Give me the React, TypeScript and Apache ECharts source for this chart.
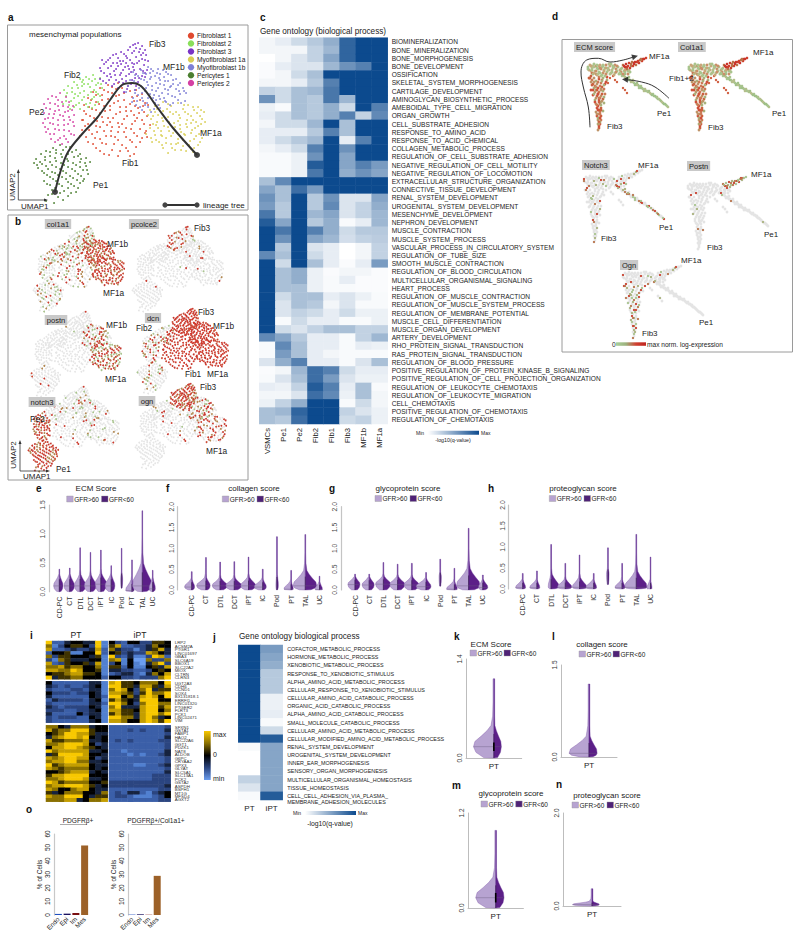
import React, { useEffect, useRef } from "react";
import * as echarts from "echarts";

const FF = '"Liberation Sans", Arial, sans-serif';

// ---- UMAP clusters (UMAP1, UMAP2 pairs)
const fib3 = [130,167,125,165,134,164,128,162,120,160,137,160,113,158,131,158,124,157,105,155,138,155,118,154,128,153,110,152,134,151,100,150,122,150,115,149,140,149,105,147,129,147,96,146,136,145,110,144,120,144,125,143,92,142,100,142,132,141,115,140,106,139,139,140,123,138,96,137,128,136,112,135,118,134,103,133,134,134,92,131,108,130,124,130,98,127,115,127,130,128,104,124,120,124,110,122,127,120,116,118,137,137,102,136,126,146,118,147,109,147,133,155,121,141,94,150,114,131,127,132,
127,166,132,161,122,163,116,156,126,159,135,157,108,156,102,152,112,149,119,152,124,147,131,149,137,150,98,148,103,144,113,146,108,141,117,143,126,140,135,139,93,139,99,134,107,135,113,137,121,136,131,132,137,133,95,129,101,130,111,128,118,129,123,126,128,124,106,126,113,124,119,121];
const mf1b = [140,143,150,141,133,140,145,139,158,138,125,138,152,136,138,136,163,135,130,134,147,134,156,133,168,131,142,131,136,130,152,130,160,129,122,130,172,127,148,127,128,127,165,126,156,125,140,125,133,124,175,122,150,122,144,120,168,121,120,124,160,120,127,120,137,119,178,117,154,117,172,116,146,115,130,115,164,114,140,112,152,111,125,112,170,110,135,109,147,107,158,108,128,105,140,103,152,102,134,100,143,98,148,110,162,123,118,118,156,112,142,137,124,108,177,109,165,107,137,105,
143,141,155,140,135,137,149,137,160,136,127,135,143,133,151,132,165,130,133,131,126,129,139,128,157,129,170,125,144,124,152,126,163,124,123,127,131,122,138,122,148,119,157,121,171,119,176,119,127,117,134,117,142,116,151,114,160,116,167,113,134,112,145,112,157,109,129,109,139,107,150,105,162,105,173,107,132,103,146,101];
const mf1a = [155,108,170,107,180,105,190,103,147,104,163,104,175,101,186,100,196,98,142,100,155,99,168,98,180,96,192,94,150,95,160,93,172,92,185,90,197,88,143,91,155,89,166,87,178,86,190,84,148,85,160,83,172,81,184,80,195,79,142,82,153,79,165,77,177,75,188,74,147,75,158,72,170,71,182,69,192,68,151,68,163,66,175,64,186,62,155,62,167,60,178,59,160,57,185,58,144,68,138,76,194,72,172,85,149,101,183,94,162,98,176,76,168,66,154,74,188,88,140,95,
151,105,160,106,176,105,185,103,193,100,147,98,159,101,171,95,177,98,189,97,145,94,154,92,165,96,179,90,194,91,149,88,161,88,170,89,183,87,193,86,145,86,156,84,167,83,179,83,187,82,146,79,150,82,161,79,173,78,183,77,191,76,143,72,153,75,163,74,175,70,186,71,148,70,158,67,170,67,181,65,190,65,154,65,164,62,173,60,183,61];
const fib1 = [110,127,100,125,120,124,92,122,108,121,128,120,85,118,100,118,116,117,134,116,94,115,108,114,124,113,80,112,100,111,116,110,132,110,88,108,106,107,122,106,140,105,76,105,96,104,112,103,130,102,84,101,102,100,118,99,136,98,92,97,108,96,126,95,78,96,86,92,100,92,116,91,134,90,95,88,110,87,124,86,142,85,80,86,88,84,104,83,118,82,132,81,74,80,96,79,110,78,126,77,84,76,103,74,118,73,134,72,72,74,92,71,110,70,124,68,80,68,98,66,114,65,128,63,88,62,104,60,120,59,96,56,110,54,126,56,137,77,75,90,
104,123,114,122,96,120,122,119,88,115,104,117,111,115,129,114,83,110,94,110,110,109,126,109,137,107,81,103,91,106,102,104,118,103,127,104,135,104,76,99,88,100,97,99,112,98,123,99,131,97,82,94,94,93,105,92,119,94,129,92,139,94,74,90,89,89,102,88,114,86,127,89,136,86,77,84,92,83,99,85,111,83,123,81,138,79,81,80,89,78,103,79,116,78,129,74,139,73,78,73,87,72,98,74,107,73,122,70,132,68,85,66,94,67,106,66,118,62,92,59,101,55,112,59,122,54];
const fib2 = [85,135,78,133,92,132,72,131,84,129,66,128,90,127,76,126,60,124,82,123,70,122,94,122,56,120,76,119,88,118,64,118,80,115,92,114,70,114,58,114,84,111,74,110,63,109,90,108,78,106,68,105,55,106,84,102,72,101,62,101,88,125,74,128,67,116,82,107,
81,131,87,131,75,130,69,125,80,126,93,126,64,122,74,124,86,120,59,117,72,117,83,118,90,116,66,112,76,113,86,113,61,105,71,107,80,103,87,105,66,103,58,109];
const pe2 = [52,117,44,114,58,113,40,111,50,110,61,108,47,106,36,106,55,104,65,104,42,101,51,100,60,99,36,97,46,96,55,94,66,95,40,92,50,90,62,90,35,87,45,86,56,85,66,84,40,81,51,80,61,79,46,76,56,74,50,70,60,68,66,75,37,83,43,71,54,66,
48,113,54,108,42,107,60,103,50,104,38,102,47,99,57,98,64,100,41,96,52,95,61,93,37,91,45,92,56,90,65,88,42,87,50,85,60,86,38,78,47,81,56,80,63,76,42,76,52,72,58,71,47,68];
const pe1 = [52,65,62,63,45,62,55,60,68,60,38,59,48,57,60,56,72,56,33,56,42,54,54,53,66,53,78,52,28,51,37,50,48,49,60,49,72,48,82,48,26,47,34,46,44,45,56,45,68,45,78,44,30,42,40,41,52,41,64,41,75,40,36,37,47,37,58,37,70,36,80,36,42,33,54,33,65,32,76,31,36,29,48,29,60,28,72,27,42,25,54,24,66,24,44,20,56,19,68,18,40,15,50,13,60,14,38,9,46,7,
58,63,48,60,64,58,42,58,53,56,70,54,37,53,47,52,59,51,73,51,32,48,42,48,53,47,65,47,77,47,29,45,38,44,48,43,60,43,72,43,34,39,44,38,55,39,67,39,79,40,39,35,50,35,62,34,73,34,45,31,58,31,69,30,39,26,51,26,63,26,75,29,47,22,60,22,70,22,52,17,63,17,44,16,55,10];
const trajectory = [[47,18],[52,37],[60,58],[75,77],[89,92],[102,110],[114,125],[124,127],[134,123],[149,103],[165,82],[189,55]];
const trajectoryEnds = [[47,18],[189,55]];
const clusterNames = ["Fibroblast 1","Fibroblast 2","Fibroblast 3","Myofibroblast 1a","Myofibroblast 1b","Pericytes 1","Pericytes 2"];
const clusterColors = ["#E0492F","#8ADF5A","#7A33C6","#D9CF55","#7E7FD6","#4B7F30","#D440A4"];

// ---- expression: keep every k-th cell of [Fib1,Fib2,Fib3,MF1a,MF1b,Pe1,Pe2]; 0 = none
const exprCol1a1 = [2,2,2,1,1,3,3];
const exprPcolce2 = [35,0,3,25,15,60,0];
const exprPostn = [0,0,40,1,2,14,0];
const exprDcn = [1,3,1,1,1,4,2];
const exprNotch3 = [8,6,7,7,5,1,1];
const exprOgn = [8,8,1,2,2,0,0];

// ---- Diffusion-map arms (DC1, DC2 pairs)
const hub = [33,73,35,75,37,72,39,76,41,74,43,71,45,75,47,73,49,70,51,75,53,72,55,74,57,70,59,73,61,71,63,73,65,70,67,72,69,69,71,71,73,69,36,69,40,69,44,68,48,67,52,68,56,67,60,67,64,66,68,66,38,66,42,65,46,64,50,64,73,66,75,68,34,70,38,74,42,72,46,71,50,72,54,70,58,72,62,69,66,68,70,68,44,74,48,75,56,76,60,75,
33,71,36,74,39,73,42,75,45,72,48,74,51,72,54,76,58,74,62,74,66,71,70,70,74,70,37,70,41,69,45,67,49,69,53,70,57,68,61,68,65,67,39,67,43,66,47,65,51,66,55,66,59,65];
const armMF = [70,73,73,74,76,76,79,77,82,78,85,80,88,81,91,82,72,71,75,72,78,74,81,75,84,77,87,79,68,75,71,76,74,77,77,78,80,78,83,79,86,81,69,74,72,73,76,74,79,76,83,78,86,80,89,81];
const armPe = [66,66,69,64,72,62,75,60,78,58,81,56,84,54,87,52,90,50,93,48,96,46,99,44,102,42,105,40,108,37,111,35,113,33,70,66,74,63,78,60,82,57,86,54,90,51,94,49,98,46,102,43,106,39,71,61,76,58,80,55,84,52,89,49,68,65,73,61,77,59,83,55,88,51,92,49,97,45,101,43,104,41,109,36,67,64,70,63,74,60,79,57,82,55,86,52,91,49,95,47,100,44,103,41,107,38,110,36,112,34];
const armFib = [36,64,39,62,37,60,41,59,44,61,38,56,42,56,46,57,39,52,43,52,47,53,40,48,44,48,48,49,38,45,42,44,46,44,50,46,40,40,44,40,48,41,41,36,45,36,49,37,42,32,46,32,41,28,45,28,48,29,42,24,46,24,43,20,46,20,43,16,45,16,44,12,43,10,47,60,52,60,50,56,34,62,36,58,40,54,41,50,36,50,43,46,46,50,44,42,46,38,43,34,44,30,44,26,44,22,45,18,44,14,
37,67,41,66,44,63,48,62,52,63,35,62,39,58,43,58,47,59,51,58,37,55,41,53,45,54,49,55,38,50,42,50,46,51,49,51,39,46,43,46,47,46,41,42,45,42,49,43,40,38,44,38,47,39,42,35,46,35,43,30,46,30,42,26,45,26,43,22,45,22,44,18,44,16];
const stray = [55,62,62,58,68,52,70,50,60,60,72,47,58,64,53,57];
const arrowA = [[35,12.7],[33.3,33],[28.3,53],[26,68],[31.7,80],[43.3,81.7],[55,78],[68.3,80],[80,83.5]];
const arrowB = [[114,41.7],[100,53],[86.7,58],[70,60.5]];

// ---- heatmap c
const cCols = ["VSMCs","Pe1","Pe2","Fib2","Fib1","Fib3","MF1b","MF1a"];
const cTerms = ["BIOMINERALIZATION","BONE_MINERALIZATION","BONE_MORPHOGENESIS","BONE_DEVELOPMENT","OSSIFICATION","SKELETAL_SYSTEM_MORPHOGENESIS","CARTILAGE_DEVELOPMENT","AMINOGLYCAN_BIOSYNTHETIC_PROCESS","AMEBOIDAL_TYPE_CELL_MIGRATION","ORGAN_GROWTH","CELL_SUBSTRATE_ADHESION","RESPONSE_TO_AMINO_ACID","RESPONSE_TO_ACID_CHEMICAL","COLLAGEN_METABOLIC_PROCESS","REGULATION_OF_CELL_SUBSTRATE_ADHESION","NEGATIVE_REGULATION_OF_CELL_MOTILITY","NEGATIVE_REGULATION_OF_LOCOMOTION","EXTRACELLULAR_STRUCTURE_ORGANIZATION","CONNECTIVE_TISSUE_DEVELOPMENT","RENAL_SYSTEM_DEVELOPMENT","UROGENITAL_SYSTEM_DEVELOPMENT","MESENCHYME_DEVELOPMENT","NEPHRON_DEVELOPMENT","MUSCLE_CONTRACTION","MUSCLE_SYSTEM_PROCESS","VASCULAR_PROCESS_IN_CIRCULATORY_SYSTEM","REGULATION_OF_TUBE_SIZE","SMOOTH_MUSCLE_CONTRACTION","REGULATION_OF_BLOOD_CIRCULATION","MULTICELLULAR_ORGANISMAL_SIGNALING","HEART_PROCESS","REGULATION_OF_MUSCLE_CONTRACTION","REGULATION_OF_MUSCLE_SYSTEM_PROCESS","REGULATION_OF_MEMBRANE_POTENTIAL","MUSCLE_CELL_DIFFERENTIATION","MUSCLE_ORGAN_DEVELOPMENT","ARTERY_DEVELOPMENT","RHO_PROTEIN_SIGNAL_TRANSDUCTION","RAS_PROTEIN_SIGNAL_TRANSDUCTION","REGULATION_OF_BLOOD_PRESSURE","POSITIVE_REGULATION_OF_PROTEIN_KINASE_B_SIGNALING","POSITIVE_REGULATION_OF_CELL_PROJECTION_ORGANIZATION","REGULATION_OF_LEUKOCYTE_CHEMOTAXIS","REGULATION_OF_LEUKOCYTE_MIGRATION","CELL_CHEMOTAXIS","POSITIVE_REGULATION_OF_CHEMOTAXIS","REGULATION_OF_CHEMOTAXIS"];
const cValues = [
[.5,1,2,3,4.5,8.5,10,10],[.5,.5,.5,2.5,4,8.5,10,10],[0,.5,1.5,2.5,5,8.5,10,10],[.2,1,1.5,1.5,4,6,7,10],[.2,.5,2,3.5,10,10,10,10],[.5,.5,1,3,7,10,10,10],[2.5,2,3.5,4,7.5,10,10,10],[6,2,3.5,3,7.5,4,10,10],[.8,.3,3.5,3,4.5,2,10,7],[1,2,3.5,3,4.5,7,2.5,6.5],[.5,2,2,4,10,3.5,10,10],[1,1,1,3,7,3.5,10,10],[1,2,3,4,10,1,7,10],[.5,1,2,7,10,6,10,10],[.3,.3,.8,6,10,5,10,10],[.3,.3,.8,9,10,5,7,5.5],[.3,.3,.8,7.5,10,4.5,6,5],[3.5,6.5,10,10,10,10,10,10],[5,3.5,8,5.5,10,10,10,10],[6,3.5,10,3,6,1.5,1.5,5],[5.5,3,10,3,6.5,1.5,2.5,4.5],[7.5,3,10,4,5,1.5,2.5,4],[9,5,10,3,4.5,.3,1,4],[10,7.5,10,7,4.5,2,3,3],[10,6,10,5,4,1.8,2.5,2.8],[10,3,10,1.5,1,0,.5,2.5],[6.5,3.5,10,2,1,0,.5,2.5],[10,2,10,3.5,1,.2,1,5.5],[10,3.5,4.5,.8,.2,.5,.5,.2],[10,3.5,4.5,.8,.3,1,.2,.2],[10,3.5,3.5,.8,.3,.3,.2,.2],[10,2,3.5,3.5,1,1.5,.8,.3],[10,1.5,3.5,3,.5,1.5,.3,.3],[10,1.5,2.5,2,1,2,.8,.8],[10,.3,2,1,1,.3,.3,.8],[10,2,1.5,2.5,3.5,3.5,2.5,2.5],[6.5,5,3,1,1,.3,2.5,4],[.3,6.5,3.5,1,1,.3,1,.8],[.3,5.5,3.5,1,.5,.3,.3,.3],[1.5,4.5,7,1,1,.3,1.5,3.5],[.2,.5,4,8,7,2,1,1],[.3,1.5,3.5,8,5.5,1.5,.8,.8],[1,.8,2.5,9,7,1,3.5,.3],[.5,.5,1.5,8,6.5,.8,3.5,.5],[.8,2.5,4.5,10,10,.3,2,.5],[3.5,4,8.5,10,10,2.5,1.5,.8],[3.5,3,8,10,10,2,2.5,.8]];

// ---- heatmap j
const jCols = ["PT","iPT"];
const jTerms = ["COFACTOR_METABOLIC_PROCESS","HORMONE_METABOLIC_PROCESS","XENOBIOTIC_METABOLIC_PROCESS","RESPONSE_TO_XENOBIOTIC_STIMULUS","ALPHA_AMINO_ACID_METABOLIC_PROCESS","CELLULAR_RESPONSE_TO_XENOBIOTIC_STIMULUS","CELLULAR_AMINO_ACID_CATABOLIC_PROCESS","ORGANIC_ACID_CATABOLIC_PROCESS","ALPHA_AMINO_ACID_CATABOLIC_PROCESS","SMALL_MOLECULE_CATABOLIC_PROCESS","CELLULAR_AMINO_ACID_METABOLIC_PROCESS","CELLULAR_MODIFIED_AMINO_ACID_METABOLIC_PROCESS","RENAL_SYSTEM_DEVELOPMENT","UROGENITAL_SYSTEM_DEVELOPMENT","INNER_EAR_MORPHOGENESIS","SENSORY_ORGAN_MORPHOGENESIS","MULTICELLULAR_ORGANISMAL_HOMEOSTASIS","TISSUE_HOMEOSTASIS","\nCELL_CELL_ADHESION_VIA_PLASMA_\nMEMBRANE_ADHESION_MOLECULES"];
const jPT = [10,10,10,10,10,10,10,10,10,10,10,10,.3,0,0,0,2.5,1.5,.3];
const jIPT = [5.5,5,4.5,3,3,3,.8,.8,1,.3,2,9,5,5,5,5,5,5,9];

// ---- heatmap i: one digit per cell, 0 = min (blue), 5 = 0 (black), 9 = max (yellow); 10 PT + 10 iPT
const iBlock1 = ["9224554491 5325533665","7135665391 6822334755","8223433482 7433134684","2556115592 5634338754","7366555461 9324113982","3176444551 7815007337","8236556481 3515104793","7786775571 6625115648","8877985561 4433223565","5667886651 2344214758","9466775552 5533233379"];
const iBlock2 = ["5222222441 8966577759","4323223451 9966488648","3222332441 7985379466","5333233541 8876369779","4222222542 9957489859","2433332451 6865499955","3222222442 9975379977","4323333541 7944489968","3332233451 8866589957","4222253441 6866489979","3233322541 9977489745","3222222451 8875589869"];
const iBlock3 = ["7754777455 2222222223","8677999655 2223232224","5679988644 2222222223","4789989545 2222222224","8667778445 2323222233","7789998534 2222222223","5889987654 2222222223","9788888445 2212222224","4699998554 2221212234","8789988534 2222222223","7889977445 2222222223","9678888544 2222112234","8767777545 2222222223","5567888454 2222222224","6889999555 2222222333","7789998445 2222222333","9867777556 3333333333","7889998645 3333333334","8755788544 2222222233","6457775547 2324421345","8779995466 2332111235","7778845778 2222222233"];
const iLabels1 = ["LRP2","ACSM2A","PTGR1","LINC01697","GBA3","SLC6A19","BBOX1","SLC22A2","MIOX","CLTRN","CLRN3"];
const iLabels2 = ["UGT2A3","CDH6","CCND1","SOX4","BX131818.1","ERRFI1","LINC01320","PTGER2","FLRT3","PCK1","LINC02471","VIM"];
const iLabels3 = ["SFXN1","GSTA1","FABP1","HAO2","SLC22A6","GGT1","PDZK1","NAT8","ALDOB","G6PC","CRYAA2","GPX3","GLYAT","SLC5A1","SLC13A1","PCK2","GSTA2","ASPDH","BSPH1","MT1G","MFSD4","AGXT2"];

// ---- violins: tops, bellies, left widths, right widths
const kinds = ["CD-PC","CT","DTL","DCT","iPT","IC","Pod","PT","TAL","UC"];
const eTop = [.39,.41,.76,.68,.72,.45,.75,.55,1.4,.37];
const eBelly = [.1,.1,.1,.1,.13,.1,.2,.02,.1,.05];
const eL = [.55,.55,.55,.6,.55,.6,.1,.6,.95,.35];
const eR = [.35,.45,.55,.55,.55,.35,.1,.2,.9,.25];
const fTop = [.44,.78,.67,.68,.79,.5,1.28,.47,1.33,.33];
const fBelly = [.07,.1,.1,.1,.1,.07,.1,.02,.1,.01];
const fL = [.5,.65,.55,.6,.55,.6,.07,.5,.85,.3];
const fR = [.2,.3,.5,.5,.5,.25,.1,.15,.8,.2];
const gTop = [.38,.38,.66,.62,.64,.42,.74,.52,1.48,.36];
const gBelly = [.13,.12,.14,.13,.12,.08,.3,.02,.1,.06];
const gL = [.5,.5,.55,.55,.55,.7,.08,.55,.85,.3];
const gR = [.35,.35,.5,.5,.5,.35,.08,.2,.8,.35];
const hTop = [.37,.43,1.06,.61,.81,.37,.98,.61,1.3,.76];
const hBelly = [.03,.03,.05,.04,.04,.03,.35,.03,.04,.01];
const hL = [.5,.5,.2,.55,.5,.55,.1,.5,.8,.25];
const hR = [.2,.2,.55,.45,.5,.2,.08,.2,.75,.1];
// top, belly, left, right, bulb height
const kViolin = [1.12,.16,.73,.27,.3];
const lViolin = [1.19,.06,.71,.29,.28];
const mViolin = [.98,.13,.72,.3,.26];
const nViolin = [.37,.03,.67,.25,.07];

// ---- bars o
const oCats = ["Endo","Epi","Im","Mes"];
const oColors = ["#2050C0","#1C1260","#7A1012","#9C6128"];
const oAll = [.8,1,1.5,51.5];
const oCol = [.3,.5,.2,29];

const pairs = (f: number[]) => { const r: number[][] = []; for (let i = 0; i + 1 < f.length; i += 2) r.push([f[i], f[i + 1]]); return r; };
const clusters = [fib1, fib2, fib3, mf1a, mf1b, pe1, pe2].map(pairs);
const allCells = clusters.flat();
const arms = [hub, armMF, armPe, armFib, stray].map(pairs);
const allArm = arms.flat();

const parseBlock = (rows: string[]) => rows.map((r) => r.replace(" ", "").split("").map(Number));

function buildOption() {
  const grid: any[] = [], xAxis: any[] = [], yAxis: any[] = [], series: any[] = [], graphic: any[] = [];
  const addGrid = (l: number, t: number, w: number, h: number, xa: any, ya: any) => {
    grid.push({ left: l, top: t, width: w, height: h, outerBoundsMode: "none", show: false });
    xAxis.push({ gridIndex: grid.length - 1, ...xa });
    yAxis.push({ gridIndex: grid.length - 1, ...ya });
    return grid.length - 1;
  };
  const hiddenVal = (max: number) => ({ type: "value", min: 0, max, show: false });
  const scatter = (g: number, data: any[], color: any, size: number) =>
    series.push({ type: "scatter", xAxisIndex: g, yAxisIndex: g, data, symbolSize: size, silent: true, itemStyle: { color, opacity: 1 } });

  const T = (text: string, x: number, y: number, size = 7, o: any = {}) =>
    graphic.push({ type: "text", x, y, rotation: o.rot || 0, silent: true, z: 50,
      style: { text, fill: o.fill || "#222", fontSize: size, fontFamily: FF, fontWeight: o.bold ? "bold" : "normal",
        align: o.align || "left", verticalAlign: "middle", backgroundColor: o.bg, padding: o.bg ? [1, 2] : undefined } });
  const box = (x: number, y: number, w: number, h: number) =>
    graphic.push({ type: "rect", shape: { x, y, width: w, height: h }, silent: true, z: 0, style: { fill: "none", stroke: "#9a9a9a", lineWidth: 1 } });
  const L = (x1: number, y1: number, x2: number, y2: number, stroke = "#333", lineWidth = 0.8) =>
    graphic.push({ type: "line", silent: true, z: 40, shape: { x1, y1, x2, y2 }, style: { stroke, lineWidth } });
  const tri = (pts: number[][], fill = "#333") =>
    graphic.push({ type: "polygon", silent: true, z: 40, shape: { points: pts }, style: { fill } });
  const C = (cx: number, cy: number, r: number, fill: string) =>
    graphic.push({ type: "circle", silent: true, z: 40, shape: { cx, cy, r }, style: { fill } });
  const gradBar = (x: number, y: number, w: number, h: number, stops: string[], vertical = false) =>
    graphic.push({ type: "rect", silent: true, z: 40, shape: { x, y, width: w, height: h },
      style: { fill: new echarts.graphic.LinearGradient(0, 0, vertical ? 0 : 1, vertical ? 1 : 0,
        stops.map((color, i) => ({ offset: i / (stops.length - 1), color }))) } });

  // boxes
  box(7.5, 25, 240.5, 185); box(8, 215, 240, 265); box(562, 39.5, 230.5, 312.5);

  // panel labels
  ([["a",8,17],["b",15,221],["c",260,17],["d",552,16],["e",36,488],["f",166,488],["g",329,488],["h",488,488],["i",30,635],["j",213,637],["k",454,636],["l",552,636],["m",452,785],["n",556,784],["o",26,809]] as any[])
    .forEach(([t, x, y]) => T(t, x, y, 10, { bold: true, fill: "#111" }));

  // ---- a
  const ga = addGrid(8, 25, 240, 185, hiddenVal(240), hiddenVal(185));
  clusters.forEach((c, i) => scatter(ga, c, clusterColors[i], 1.8));
  series.push({ type: "line", xAxisIndex: ga, yAxisIndex: ga, data: trajectory, smooth: 0.35, showSymbol: false, silent: true, lineStyle: { color: "#333", width: 2 } });
  scatter(ga, trajectoryEnds, "#444", 6);
  T("mesenchymal populations", 29, 34, 8);
  ([["Fib3",149,44],["MF1b",163,67],["Fib2",64,75],["Pe2",29,112],["MF1a",200,133],["Fib1",122,163],["Pe1",93,185]] as any[]).forEach(([t, x, y]) => T(t, x, y, 8.5));
  clusterNames.forEach((n, i) => { const y = 35.7 + i * 7.9; C(191, y, 3.2, clusterColors[i]); T(n, 197, y, 6.6); });
  L(18.3, 172, 18.3, 200); L(18.3, 200, 46, 200); tri([[18.3, 169], [16.8, 173], [19.8, 173]]); tri([[48, 200], [44, 198.5], [44, 201.5]]);
  T("UMAP1", 21, 206, 8); T("UMAP2", 12, 187, 8, { rot: Math.PI / 2, align: "center" });
  L(165, 205, 197, 205, "#333", 2); C(165, 205, 2.6, "#444"); C(197, 205, 2.6, "#444"); T("lineage tree", 203, 205, 8);

  // ---- b
  const hotP = ["#CE3A2C", "#C9352B", "#B4884F", "#CF4A35"], coolP = ["#A9C58D", "#B4884F", "#A9C58D", "#CE3A2C"], allHot = ["#D2382B", "#C9352B", "#CF4A35", "#D2382B"], mixP = ["#CE3A2C", "#A9C58D", "#B4884F", "#C9352B"];
  // palette of each cluster: 0 cool, 1 mixed, 2 hot, 3 all red
  const bPanels: any[] = [
    [33, 310, exprCol1a1, [1,0,0,2,2,0,0], "col1a1", 58, 224],
    [132, 310, exprPcolce2, [1,1,2,1,1,2,1], "pcolce2", 144, 224],
    [30, 395, exprPostn, [1,1,1,1,1,2,1], "postn", 56, 320],
    [137, 392, exprDcn, [3,1,3,3,3,0,1], "dcn", 153, 318],
    [28, 470, exprNotch3, [1,1,0,0,0,2,2], "notch3", 42, 402],
    [135, 467, exprOgn, [1,1,2,2,1,1,1], "ogn", 147, 401],
  ];
  const pals = [coolP, mixP, hotP, allHot];
  bPanels.forEach(([X0, Y0, expr, palIdx, name, lx, ly]) => {
    const g = addGrid(X0 - 13.25, Y0 + 5.3 - 98, 127.2, 98, hiddenVal(240), hiddenVal(185));
    scatter(g, allCells, "#E5E5E5", 1.8);
    const d: any[] = []; let n = 0;
    clusters.forEach((c, i) => { const k = expr[i]; if (k) c.forEach((p, j) => { if (j % k === 0) { const pal = pals[palIdx[i]]; d.push({ value: p, itemStyle: { color: pal[n++ % pal.length] } }); } }); });
    scatter(g, d, "#CE3A2C", 1.8);
    T(name, lx, ly, 7.6, { bg: "#C9C9C9", align: "center" });
  });
  ([["MF1b",107,244],["MF1a",103,293],["Fib3",194,228],["MF1b",106,325],["MF1a",105,379],["Fib3",198,312],["MF1b",213,326],["Fib2",136,328],["Fib1",185,374],["MF1a",207,374],["Pe2",30,419],["Pe1",56,469],["Fib3",200,387],["MF1a",206,451]] as any[]).forEach(([t, x, y]) => T(t, x, y, 8.3));
  L(20, 443, 20, 471); L(20, 471, 47, 471); tri([[20, 440], [18.5, 444], [21.5, 444]]); tri([[50, 471], [46, 469.5], [46, 472.5]]);
  T("UMAP1", 23, 476.5, 8); T("UMAP2", 13, 455, 8, { rot: Math.PI / 2, align: "center" });

  // ---- c
  const blue = ["#FFFFFF", "#0C4A8E"];
  const gc = addGrid(259.3, 37.7, 128.4, 386.3,
    { type: "category", data: cCols, axisLine: { show: false }, axisTick: { show: false }, axisLabel: { rotate: 90, interval: 0, fontSize: 7.7, fontFamily: FF, color: "#222", margin: 4 } },
    { type: "category", data: cTerms, inverse: true, position: "right", axisLine: { show: false }, axisTick: { show: false }, axisLabel: { interval: 0, fontSize: 6.6, fontFamily: FF, color: "#222", margin: 4 } });
  const cSeries = series.length;
  series.push({ type: "heatmap", xAxisIndex: gc, yAxisIndex: gc, silent: true,
    data: cValues.flatMap((r, y) => r.map((v, x) => [x, y, v])) });
  T("Gene ontology (biological process)", 260, 31, 8.2);
  gradBar(428, 430.8, 51, 4, blue);
  T("Min", 416, 433, 5); T("Max", 481, 433, 5); T("-log10(q-value)", 453, 440, 5.3, { align: "center" });

  // ---- d
  const dPanel = (left: number, top: number) => addGrid(left, top, 120, 110, hiddenVal(120), hiddenVal(110));
  const pick = (pts: number[][], k: number, pal: string[]) => { const r: any[] = []; let n = 0; pts.forEach((p, i) => { if (i % k === 0) r.push({ value: p, itemStyle: { color: pal[n++ % pal.length] } }); }); return r; };
  const mix = ["#C9603F", "#BE9468", "#CC7A55", "#A9B27C", "#D0503A"], grn = ["#A8C48E", "#B5BE8C", "#9FC088"], tip = ["#C9352B", "#D0402E", "#B9734A"];
  const gEcm = dPanel(555, 30);
  const gColl = dPanel(656, 30);
  [gEcm, gColl].forEach((g) => {
    scatter(g, pick(arms[3], 1, mix), "#c66", 2.8);
    scatter(g, pick(arms[4], 1, ["#CF5A3C"]), "#c66", 2.4);
    scatter(g, pick(arms[2], 1, grn), "#9c8", 2.6);
    scatter(g, pick(arms[0], 1, ["#A8C48E", "#C9A679", "#B4BF8C", "#A9C58D", "#C98F68"]), "#9c8", 3);
    scatter(g, pick(arms[1], 1, tip), "#c33", 2.6);
  });
  [arrowA, arrowB].forEach((a) => series.push({ type: "line", xAxisIndex: gEcm, yAxisIndex: gEcm, data: a, smooth: 0.4, showSymbol: false, silent: true, lineStyle: { color: "#333", width: 1 } }));
  series.push({ type: "scatter", xAxisIndex: gEcm, yAxisIndex: gEcm, data: [arrowA[arrowA.length - 1]], symbol: "triangle", symbolRotate: -75, symbolSize: 6, silent: true, itemStyle: { color: "#111" } });
  series.push({ type: "scatter", xAxisIndex: gEcm, yAxisIndex: gEcm, data: [arrowB[arrowB.length - 1]], symbol: "triangle", symbolRotate: 85, symbolSize: 6, silent: true, itemStyle: { color: "#111" } });
  const dGene = (left: number, top: number, picks: [number, number][]) => {
    const g = dPanel(left, top);
    scatter(g, allArm, "#E4E4E4", 2.8);
    picks.forEach(([arm, k]) => scatter(g, pick(arms[arm], k, ["#C9402E", "#A9B27C", "#B9734A", "#A8C48E"]), "#c33", 2.2));
  };
  dGene(551, 142, [[2, 2], [0, 5], [3, 6], [1, 5]]);
  dGene(655, 149, [[1, 1], [3, 14], [2, 14]]);
  dGene(590, 238, [[3, 2], [0, 14], [1, 5], [4, 3]]);
  ([["ECM score",574,47],["Col1a1",678,47],["Notch3",582,165],["Postn",687,166],["Ogn",620,265]] as any[]).forEach(([t, x, y]) => T(t, x, y, 7.5, { bg: "#C9C9C9" }));
  ([["MF1a",649,56],["MF1a",753,52],["Fib1+2",669,78],["Pe1",657,113],["Fib3",607,126],["Pe1",772,113],["Fib3",708,127],["MF1a",638,165],["Pe1",659,227],["Fib3",601,238],["MF1a",751,174],["Pe1",764,234],["Fib3",707,247],["MF1a",681,260],["Pe1",699,322],["Fib3",642,333]] as any[]).forEach(([t, x, y]) => T(t, x, y, 8));
  T("0", 612, 344, 6.6); gradBar(616, 342.3, 30, 3.5, ["#A9D19A", "#9DB27E", "#D04030", "#C0241E"]); T("max norm. log-expression", 647, 344, 6.6);

  // ---- violins: outline of a bulb, then a thin spike up to the top value
  const bulb = [[0, 1], [.25, .93], [.5, .62], [.75, .34], [1, .14]];
  const spike = [[.2, .06], [.5, .03], [1, .015]];
  const violinItem = (hasBox: boolean) => (_p: any, api: any) => {
    const c = api.value(0), top = api.value(1), belly = api.value(2), wl = api.value(3), wr = api.value(4), bh = api.value(5);
    const base = belly > .15 && top < 1 && wl < .2 ? belly * .3 : 0;
    const B = bh > 0 ? bh : Math.min(Math.max(.19, .3 * (top - belly)), (top - belly) * .8);
    const side = (w: number) => {
      const minW = .03 * Math.sign(w);
      const wid = (f: number) => (Math.abs(w * f) < .03 ? minW : w * f);
      const pts: number[][] = [api.coord([c, base]), api.coord([c + w * .5, base + .006]), api.coord([c + w * .88, (base + belly) / 2])];
      bulb.forEach(([s, f]) => pts.push(api.coord([c + wid(f), belly + s * B])));
      spike.forEach(([t, f]) => pts.push(api.coord([c + wid(f), belly + B + t * (top - belly - B)])));
      pts.push(api.coord([c, top]));
      return pts;
    };
    const ch: any[] = [
      { type: "polygon", shape: { points: side(-wl) }, style: { fill: "#B7A3D1", stroke: "#7C52A6", lineWidth: .4 } },
      { type: "polygon", shape: { points: side(wr) }, style: { fill: "#5C1F88", stroke: "#6B3A9B", lineWidth: .4 } },
    ];
    const a = api.coord([c, base]), b = api.coord([c, belly + B * .6]);
    ch.push({ type: "line", shape: { x1: a[0], y1: a[1], x2: b[0], y2: b[1] }, style: { stroke: "#2A1040", lineWidth: .6 } });
    if (wl > .25) { const p = api.coord([c - wl, belly]), q = api.coord([c + wr, belly]); ch.push({ type: "line", shape: { x1: p[0], y1: p[1], x2: q[0], y2: q[1] }, style: { stroke: "#6B5A7E", lineWidth: .4 } }); }
    if (hasBox) { const p = api.coord([c, belly - .06]), q = api.coord([c, belly + .06]); ch.push({ type: "line", shape: { x1: p[0], y1: p[1], x2: q[0], y2: q[1] }, style: { stroke: "#000", lineWidth: 1.6 } }); }
    return { type: "group", children: ch };
  };
  const legendGFR = (s1: number, s2: number, y: number, size = 6.5) => {
    [[s1, "#B7A3D1", "GFR>60"], [s2, "#4F2277", "GFR<60"]].forEach(([x, f, t]: any) => {
      graphic.push({ type: "rect", silent: true, z: 40, shape: { x, y: y - 3, width: 6.5, height: 6 }, style: { fill: f, stroke: "#999", lineWidth: .4 } });
      T(t, x + 7.5, y, size);
    });
  };
  const violinPanel = (left: number, top: number, h: number, ymax: number, tops: number[], bell: number[], ls: number[], rs: number[], unit: number) => {
    const g = addGrid(left, top, unit * 10.5, h,
      { type: "value", min: 0, max: 10.5, interval: 1, axisLine: { show: false }, axisTick: { show: false }, splitLine: { show: false },
        axisLabel: { rotate: 90, fontSize: 6.8, fontFamily: FF, color: "#333", margin: 5, showMinLabel: false, formatter: (v: number) => kinds[v - 1] || "" } },
      { type: "value", min: 0, max: ymax, interval: .5, splitLine: { show: false }, axisLine: { show: true, lineStyle: { color: "#C4C4C4", width: 1.2 } }, axisTick: { show: false },
        axisLabel: { rotate: 90, fontSize: 6.8, fontFamily: FF, color: "#444", margin: 3, formatter: (v: number) => v.toFixed(1) } });
    series.push({ type: "custom", xAxisIndex: g, yAxisIndex: g, silent: true, renderItem: violinItem(false), encode: { x: 0, y: 1 },
      data: tops.map((t, i) => [i + 1, t, bell[i], ls[i], rs[i], 0]) });
  };
  violinPanel(49, 505, 86.7, 1.5, eTop, eBelly, eL, eR, 10.37);
  violinPanel(177.5, 506.7, 83.3, 2, fTop, fBelly, fL, fR, 14.2);
  violinPanel(340.8, 506.7, 83.3, 2, gTop, gBelly, gL, gR, 14.2);
  violinPanel(508.5, 505, 84, 2, hTop, hBelly, hL, hR, 14.2);
  T("ECM Score", 96, 488, 8, { align: "center" }); legendGFR(66.7, 101.5, 499);
  T("collagen score", 254, 488, 8, { align: "center" }); legendGFR(222.3, 257, 499);
  T("glycoprotein score", 408, 488, 8, { align: "center" }); legendGFR(375, 410, 498.5);
  T("proteoglycan score", 583, 488, 8, { align: "center" }); legendGFR(549.3, 584, 498.5);

  const single = (left: number, top: number, w: number, h: number, ymax: number, v: number[], hasBox: boolean) => {
    const g = addGrid(left, top, w, h,
      { type: "value", min: 0, max: 2, interval: 1, axisLine: { show: true, lineStyle: { color: "#BDBDBD", width: 1 } }, axisTick: { show: false }, splitLine: { show: false },
        axisLabel: { fontSize: 8, fontFamily: FF, color: "#222", margin: 4, formatter: (x: number) => (x === 1 ? "PT" : "") } },
      { type: "value", min: 0, max: ymax, interval: ymax, splitLine: { show: false }, axisLine: { show: true, lineStyle: { color: "#BDBDBD", width: 1 } }, axisTick: { show: false },
        axisLabel: { rotate: 90, fontSize: 6.5, fontFamily: FF, color: "#333", margin: 3, formatter: (x: number) => x.toFixed(1) } });
    series.push({ type: "custom", xAxisIndex: g, yAxisIndex: g, silent: true, renderItem: violinItem(hasBox), encode: { x: 0, y: 1 }, data: [[1, v[0], v[1], v[2], v[3], v[4]]] });
  };
  single(466, 659, 55.7, 99, 1.4, kViolin, true);
  single(561, 665, 56, 92, 1.5, lViolin, false);
  single(468, 813, 55.4, 95, 1.2, mViolin, true);
  single(563, 813, 58, 93, 2, nViolin, false);
  T("ECM Score", 491, 644, 8, { align: "center" }); legendGFR(470, 504, 653);
  T("collagen score", 602, 644, 8, { align: "center" }); legendGFR(579, 613, 654);
  T("glycoprotein score", 511, 793, 8, { align: "center" }); legendGFR(481, 515.7, 804);
  T("proteoglycan score", 607, 795, 8, { align: "center" }); legendGFR(572, 607, 805);

  // ---- i
  const ramp = ["#6C9EF0", "#5180D0", "#3B5FA8", "#2B4580", "#16233F", "#000000", "#3F3300", "#8A7000", "#C49E00", "#F8C800"];
  const iSeries: number[] = [];
  const iBlock = (rows: string[], labels: string[], top: number, h: number) => {
    const vals = parseBlock(rows);
    const cat10 = Array.from({ length: 10 }, (_, k) => String(k));
    const catA = { type: "category", data: cat10, show: false };
    const gp = addGrid(46, top, 61.7, h, catA, { type: "category", data: labels, inverse: true, show: false });
    const gq = addGrid(109, top, 61.7, h, catA, { type: "category", data: labels, inverse: true, position: "right", axisLine: { show: false }, axisTick: { show: false }, axisLabel: { interval: 0, fontSize: 4.4, fontFamily: FF, color: "#333", margin: 4 } });
    iSeries.push(series.length);
    series.push({ type: "heatmap", xAxisIndex: gp, yAxisIndex: gp, silent: true, data: vals.flatMap((r, y) => r.slice(0, 10).map((v, x) => [x, y, v])) });
    iSeries.push(series.length);
    series.push({ type: "heatmap", xAxisIndex: gq, yAxisIndex: gq, silent: true, data: vals.flatMap((r, y) => r.slice(10).map((v, x) => [x, y, v])) });
  };
  iBlock(iBlock1, iLabels1, 641, 38.3);
  iBlock(iBlock2, iLabels2, 681.3, 41.4);
  iBlock(iBlock3, iLabels3, 725.3, 76.4);
  T("PT", 76, 635, 8.6, { align: "center" }); T("iPT", 140, 635, 8.6, { align: "center" });
  gradBar(204, 731, 6.7, 49, ["#F8C800", "#8A7000", "#000000", "#2B4580", "#6C9EF0"], true);
  T("max", 213, 734, 7); T("0", 213, 754, 7); T("min", 213, 778, 7);

  // ---- j
  const gj = addGrid(238.3, 645, 44.4, 155,
    { type: "category", data: jCols, axisLine: { show: false }, axisTick: { show: false }, axisLabel: { interval: 0, fontSize: 8, fontFamily: FF, color: "#222", margin: 4 } },
    { type: "category", data: jTerms, inverse: true, position: "right", axisLine: { show: false }, axisTick: { show: false }, axisLabel: { interval: 0, fontSize: 5.4, lineHeight: 6.2, fontFamily: FF, color: "#222", margin: 4.5 } });
  const jSeries = series.length;
  series.push({ type: "heatmap", xAxisIndex: gj, yAxisIndex: gj, silent: true, data: jTerms.flatMap((_, y) => [[0, y, jPT[y]], [1, y, jIPT[y]]]) });
  T("Gene ontology biological process", 239, 636, 8.2);
  gradBar(305, 811, 51, 4, blue);
  T("Min", 293, 813, 5); T("Max", 358, 813, 5); T("-log10(q-value)", 330, 823, 6.8, { align: "center" });

  // ---- o
  const barPanel = (left: number, w: number, vals: number[]) => {
    const g = addGrid(left, 834, w, 81,
      { type: "category", data: oCats, axisLine: { show: false }, axisTick: { show: false }, axisLabel: { rotate: 45, interval: 0, fontSize: 6.5, fontFamily: FF, color: "#222", margin: 3 } },
      { type: "value", min: 0, max: 60, interval: 10, splitLine: { show: false }, axisTick: { show: false }, axisLine: { show: true, lineStyle: { color: "#C8C8C8", width: 1.2 } },
        name: "% of Cells", nameLocation: "middle", nameGap: 11, nameTextStyle: { fontSize: 6.5, fontFamily: FF, color: "#222" },
        axisLabel: { rotate: 90, fontSize: 6.5, fontFamily: FF, color: "#222", margin: 3 } });
    series.push({ type: "bar", xAxisIndex: g, yAxisIndex: g, silent: true, barWidth: 7, data: vals.map((v, i) => ({ value: v, itemStyle: { color: oColors[i] } })) });
  };
  barPanel(54, 35, oAll);
  barPanel(127.8, 33.6, oCol);
  T("PDGFRβ+", 78, 820, 6.6, { align: "center" }); L(60, 824.5, 87, 824.5, "#AAA", 1);
  T("PDGFRβ+/Col1a1+", 156, 820, 6.6, { align: "center" }); L(131.7, 824.5, 162, 824.5, "#AAA", 1);

  return {
    animation: false, backgroundColor: "#fff", textStyle: { fontFamily: FF },
    grid, xAxis, yAxis, series, graphic: { elements: graphic },
    visualMap: [
      { show: false, min: 0, max: 10, seriesIndex: [cSeries, jSeries], inRange: { color: blue } },
      { show: false, min: 0, max: 9, seriesIndex: iSeries, inRange: { color: ramp } },
    ],
  };
}

export default function App() {
  const ref = useRef<HTMLDivElement>(null);
  useEffect(() => {
    const chart = echarts.init(ref.current!, undefined, { renderer: "svg" });
    chart.setOption(buildOption() as any);
    return () => chart.dispose();
  }, []);
  return <div ref={ref} style={{ position: "absolute", left: 0, top: 0, width: 800, height: 939 }} />;
}
